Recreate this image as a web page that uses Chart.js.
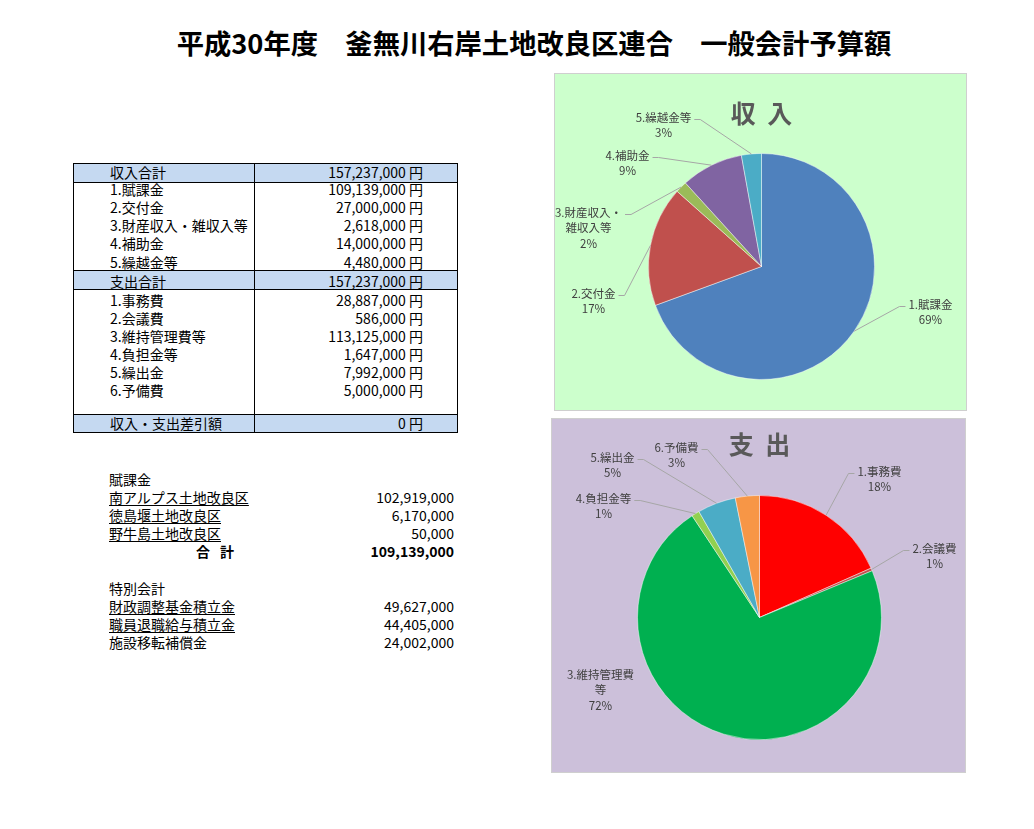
<!DOCTYPE html>
<html><head><meta charset="utf-8">
<script src="https://cdn.jsdelivr.net/npm/chart.js@4/dist/chart.umd.min.js"></script>
<style>
html,body{margin:0;padding:0;background:#fff;}
body{width:1034px;height:829px;position:relative;overflow:hidden;font-family:"Noto Sans CJK JP","Noto Sans",sans-serif;color:#000;}
#title{position:absolute;left:0;width:1068px;top:22px;height:40px;line-height:40px;text-align:center;font-size:27.3px;font-weight:bold;white-space:pre;}
.t{position:absolute;height:20px;line-height:20px;font-size:14px;white-space:pre;}
.r{text-align:right;}
.ln{position:absolute;background:#000;}
.fill{position:absolute;background:#c5d9f1;}
.box{position:absolute;box-sizing:border-box;border:1px solid #cfcfcf;}
.box canvas{display:block;}
</style></head><body>
<div id="title">平成30年度　釜無川右岸土地改良区連合　一般会計予算額</div>
<div id="tbl"></div>
<div class="box" id="incBox" style="left:554px;top:73px;width:413px;height:338px;background:#ccffcc;"><canvas id="inc" width="411" height="336"></canvas></div>
<div class="box" id="expBox" style="left:551px;top:418px;width:415px;height:355px;background:#ccc0da;"><canvas id="exp" width="413" height="353"></canvas></div>
<script>
// ---- data ----
const incomeCategories = ['1.賦課金','2.交付金','3.財産収入・雑収入等','4.補助金','5.繰越金等'];
const incomeValues = [109139000, 27000000, 2618000, 14000000, 4480000];
const incomeChartLabels = [['1.賦課金'],['2.交付金'],['3.財産収入・','雑収入等'],['4.補助金'],['5.繰越金等']];
const incomePctLabels = ['69%','17%','2%','9%','3%'];
const incomeColors = ['#4f81bd','#c0504d','#9bbb59','#8064a2','#4bacc6'];

const expenseCategories = ['1.事務費','2.会議費','3.維持管理費等','4.負担金等','5.繰出金','6.予備費'];
const expenseValues = [28887000, 586000, 113125000, 1647000, 7992000, 5000000];
const expenseChartLabels = [['1.事務費'],['2.会議費'],['3.維持管理費','等'],['4.負担金等'],['5.繰出金'],['6.予備費']];
const expensePctLabels = ['18%','1%','72%','1%','5%','3%'];
const expenseColors = ['#ff0000','#c0504d','#00b050','#92d050','#4bacc6','#f79646'];

const levyDistricts = ['南アルプス土地改良区','徳島堰土地改良区','野牛島土地改良区'];
const levyValues = [102919000, 6170000, 50000];
const specialItems = ['財政調整基金積立金','職員退職給与積立金','施設移転補償金'];
const specialValues = [49627000, 44405000, 24002000];

// ---- table (HTML) ----
const fmt = n => n.toLocaleString('en-US');
const sum = a => a.reduce((s, v) => s + v, 0);
const tbl = document.getElementById('tbl');
function put(text, x, cy, right, style) {
  const d = document.createElement('div');
  d.className = 't' + (right ? ' r' : '');
  d.textContent = text;
  d.style.top = (cy - 10) + 'px';
  if (right) { d.style.right = (1034 - x) + 'px'; } else { d.style.left = x + 'px'; }
  if (style) Object.assign(d.style, style);
  tbl.appendChild(d);
}
function rect(cls, l, t, w, h) {
  const d = document.createElement('div');
  d.className = cls;
  Object.assign(d.style, {left: l + 'px', top: t + 'px', width: w + 'px', height: h + 'px'});
  tbl.appendChild(d);
}
const TL = 73, TR = 457, TT = 163, TB = 432, COL = 254;
rect('fill', TL, TT, TR - TL, 19);
rect('fill', TL, 270, TR - TL, 19);
rect('fill', TL, 414, TR - TL, 18);
rect('ln', TL, TT, TR - TL + 1, 1);
rect('ln', TL, TB, TR - TL + 1, 1);
rect('ln', TL, TT, 1, TB - TT);
rect('ln', TR, TT, 1, TB - TT);
rect('ln', COL, TT, 1, TB - TT);
[182, 270, 289, 414].forEach(y => rect('ln', TL, y, TR - TL, 1));

const LX = 110, VX = 423;
const incTotal = sum(incomeValues), expTotal = sum(expenseValues);
put('収入合計', LX, 172);
put(fmt(incTotal) + ' 円', VX, 172, true);
incomeCategories.forEach((c, i) => {
  const cy = 188.5 + 18.3 * i;
  put(c, LX, cy);
  put(fmt(incomeValues[i]) + ' 円', VX, cy, true);
});
put('支出合計', LX, 281);
put(fmt(expTotal) + ' 円', VX, 281, true);
expenseCategories.forEach((c, i) => {
  const cy = 300 + 18 * i;
  put(c, LX, cy);
  put(fmt(expenseValues[i]) + ' 円', VX, cy, true);
});
put('収入・支出差引額', LX, 423);
put(fmt(incTotal - expTotal) + ' 円', VX, 423, true);

const BX = 109, BV = 454;
const rowY = k => 479 + 18.1 * k;
put('賦課金', BX, rowY(0));
levyDistricts.forEach((c, i) => {
  put(c, BX, rowY(i + 1), false, {textDecoration: 'underline', textUnderlineOffset: '2px'});
  put(fmt(levyValues[i]), BV, rowY(i + 1), true);
});
put('合　計', 196, rowY(4), false, {fontWeight: 'bold', letterSpacing: '-2px'});
put(fmt(sum(levyValues)), BV, rowY(4), true, {fontWeight: 'bold'});
put('特別会計', BX, rowY(6));
specialItems.forEach((c, i) => {
  put(c, BX, rowY(i + 7), false, i < 2 ? {textDecoration: 'underline', textUnderlineOffset: '2px'} : null);
  put(fmt(specialValues[i]), BV, rowY(i + 7), true);
});

// ---- pie label plugin ----
const pieLabels = {
  id: 'pieLabels',
  afterDatasetsDraw(chart, args, opts) {
    const ctx = chart.ctx;
    const meta = chart.getDatasetMeta(0);
    ctx.save();
    ctx.font = opts.font;
    ctx.textAlign = 'center';
    ctx.textBaseline = 'middle';
    meta.data.forEach((arc, i) => {
      const mid = (arc.startAngle + arc.endAngle) / 2;
      const ax = arc.x + Math.cos(mid) * arc.outerRadius;
      const ay = arc.y + Math.sin(mid) * arc.outerRadius;
      const p = opts.place[i];
      const tx = arc.x + p.dx, ty = arc.y + p.dy;
      const rows = opts.lines[i].concat([opts.pct[i]]);
      ctx.fillStyle = opts.color;
      rows.forEach((s, k) => ctx.fillText(s, tx, ty + k * opts.lineH));
      if (p.line !== false) {
        const w = ctx.measureText(opts.lines[i][0]).width;
        const right = tx > ax;
        const ex = right ? tx - w / 2 - 3 : tx + w / 2 + 3;
        const bx = right ? ex - 6 : ex + 6;
        const ey = ty + 2;
        ctx.strokeStyle = '#a6a6a6';
        ctx.lineWidth = 1;
        ctx.beginPath();
        ctx.moveTo(ax, ay);
        ctx.lineTo(bx, ey);
        ctx.lineTo(ex, ey);
        ctx.stroke();
      }
    });
    ctx.restore();
  }
};

function makePie(id, titleText, labels, values, colors, lines, pct, place, padding, titlePad) {
  return new Chart(document.getElementById(id), {
    type: 'pie',
    data: {
      labels: labels,
      datasets: [{data: values, backgroundColor: colors, borderColor: 'rgba(255,255,255,0.45)', borderWidth: 1}]
    },
    options: {
      responsive: false,
      animation: false,
      layout: {padding: padding},
      plugins: {
        legend: {display: false},
        tooltip: {enabled: false},
        title: {display: true, text: titleText, color: '#595959',
          font: {family: '"Noto Sans CJK JP"', size: 25, weight: 'bold', lineHeight: 1.2},
          padding: titlePad},
        pieLabels: {font: '11.5px "Noto Sans CJK JP"', color: '#404040', lineH: 15.5,
          lines: lines, pct: pct, place: place}
      }
    },
    plugins: [pieLabels]
  });
}

makePie('inc', '収  入', incomeCategories, incomeValues, incomeColors, incomeChartLabels, incomePctLabels,
  [{dx: 169, dy: 38}, {dx: -168, dy: 27}, {dx: -173, dy: -54}, {dx: -134, dy: -111}, {dx: -98, dy: -149}],
  {left: 93, right: 91, top: 0, bottom: 30}, {top: 24, bottom: 25});

makePie('exp', '支  出', expenseCategories, expenseValues, expenseColors, expenseChartLabels, expensePctLabels,
  [{dx: 120, dy: -146}, {dx: 175, dy: -69}, {dx: -159, dy: 57, line: false}, {dx: -156, dy: -119}, {dx: -147, dy: -160}, {dx: -83, dy: -170}],
  {left: 85, right: 83, top: 0, bottom: 32}, {top: 10, bottom: 36});
</script>
</body></html>
